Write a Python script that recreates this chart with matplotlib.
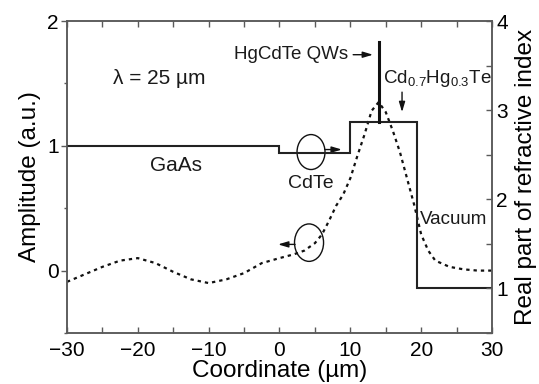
import numpy as np
import matplotlib
matplotlib.use("Agg")
import matplotlib.pyplot as plt
from matplotlib.patches import Ellipse
from matplotlib.ticker import MultipleLocator

plt.rcParams['font.family'] = ['Liberation Sans', 'DejaVu Sans']
plt.rcParams['mathtext.fontset'] = 'custom'
plt.rcParams['mathtext.rm'] = 'Liberation Sans'
plt.rcParams['mathtext.default'] = 'regular'

# field amplitude of the mode (left axis)
coord = [-30, -27.5, -25, -22.5, -20, -17.5, -15, -12.5, -10, -7.5, -5, -2.5,
         0, 2, 3.5, 5, 6, 7, 8, 9, 10, 11, 12, 13, 14, 15, 16, 17, 18, 19,
         20, 21, 22, 24, 26, 28, 30]
amplitude = [-0.09, -0.03, 0.03, 0.08, 0.10, 0.06, -0.01, -0.07, -0.10, -0.07,
             -0.02, 0.06, 0.10, 0.13, 0.16, 0.22, 0.29, 0.40, 0.52, 0.61, 0.74,
             0.92, 1.09, 1.28, 1.35, 1.27, 1.12, 0.95, 0.74, 0.53, 0.29, 0.16,
             0.08, 0.03, 0.01, 0.0, 0.0]

# layer structure: GaAs / CdTe / Cd0.7Hg0.3Te / vacuum (right axis)
layer_edges = [-30, 0, 10, 19.4, 30]
layer_index = [2.6, 2.52, 2.87, 1.0]
qw_pos = 14
qw_index = 3.76

fig = plt.figure(figsize=(5.39, 3.84), dpi=100)
ax = fig.add_axes([0.1243, 0.1328, 0.7885, 0.8125])
ax2 = ax.twinx()

frame = '#5a5a5a'
ax.plot(coord, amplitude, color='#111111', lw=1.6, linestyle=(0, (1.5, 1.8)))
ax2.stairs(layer_index, layer_edges, color='#222222', lw=1.5, baseline=None)
ax2.plot([qw_pos, qw_pos], [layer_index[2], qw_index], color='#111111', lw=2.2)

ax.set_xlim(-30, 30)
ax.set_ylim(-0.5, 2)
ax2.set_ylim(0.5, 4)

ax.xaxis.set_major_locator(MultipleLocator(10))
ax.xaxis.set_minor_locator(MultipleLocator(5))
ax.yaxis.set_major_locator(MultipleLocator(1))
ax.yaxis.set_minor_locator(MultipleLocator(0.5))
ax2.yaxis.set_major_locator(MultipleLocator(1))
ax2.yaxis.set_minor_locator(MultipleLocator(0.5))

ax.tick_params(axis='x', which='both', direction='in', top=True, length=4,
               width=1, color=frame, labelsize=15, pad=6)
ax.tick_params(axis='y', which='major', direction='out', length=4, width=1,
               color=frame, labelsize=15, pad=2)
ax.tick_params(axis='y', which='minor', direction='out', length=2.5, width=1,
               color=frame)
ax2.tick_params(axis='y', which='both', direction='in', length=4, width=1,
                color=frame, labelsize=15, pad=3)
for a in (ax, ax2):
    for s in a.spines.values():
        s.set_color(frame)
        s.set_linewidth(1.1)

ax.set_xlabel('Coordinate (µm)', fontsize=17.5, labelpad=0)
ax.set_ylabel('Amplitude (a.u.)', fontsize=17.5, labelpad=4)
ax2.set_ylabel('Real part of refractive index', fontsize=17.5, labelpad=5)

txt = '#1a1a1a'
ax.text(-23.5, 1.54, 'λ = 25 µm', fontsize=15, ha='left', va='center', color=txt)
ax.text(-14.6, 0.84, 'GaAs', fontsize=15, ha='center', va='center', color=txt)
ax.text(9.7, 1.73, 'HgCdTe QWs', fontsize=13.5, ha='right', va='center', color=txt)
ax.text(14.6, 1.54, r'Cd$_{0.7}$Hg$_{0.3}$Te', fontsize=13.5, ha='left',
        va='center', color=txt)
ax.text(4.45, 0.70, 'CdTe', fontsize=14, ha='center', va='center', color=txt)
ax.text(19.85, 0.41, 'Vacuum', fontsize=13.5, ha='left', va='center', color=txt)

arrow = dict(arrowstyle='-|>,head_length=0.6,head_width=0.18', lw=1,
             color='#111111', shrinkA=0, shrinkB=0)
ax.annotate('', xy=(13.2, 1.73), xytext=(10.4, 1.73), arrowprops=arrow)
ax.annotate('', xy=(17.3, 1.27), xytext=(17.3, 1.43), arrowprops=arrow)
ax.annotate('', xy=(8.8, 0.97), xytext=(6.4, 0.97), arrowprops=arrow)
ax.annotate('', xy=(-0.2, 0.21), xytext=(2.2, 0.21), arrowprops=arrow)

ax.add_patch(Ellipse((4.45, 0.95), 3.95, 0.28, fill=False, lw=1, color='#111111'))
ax.add_patch(Ellipse((4.17, 0.224), 4.1, 0.30, fill=False, lw=1, color='#111111'))

fig.savefig('out.png', dpi=100)
